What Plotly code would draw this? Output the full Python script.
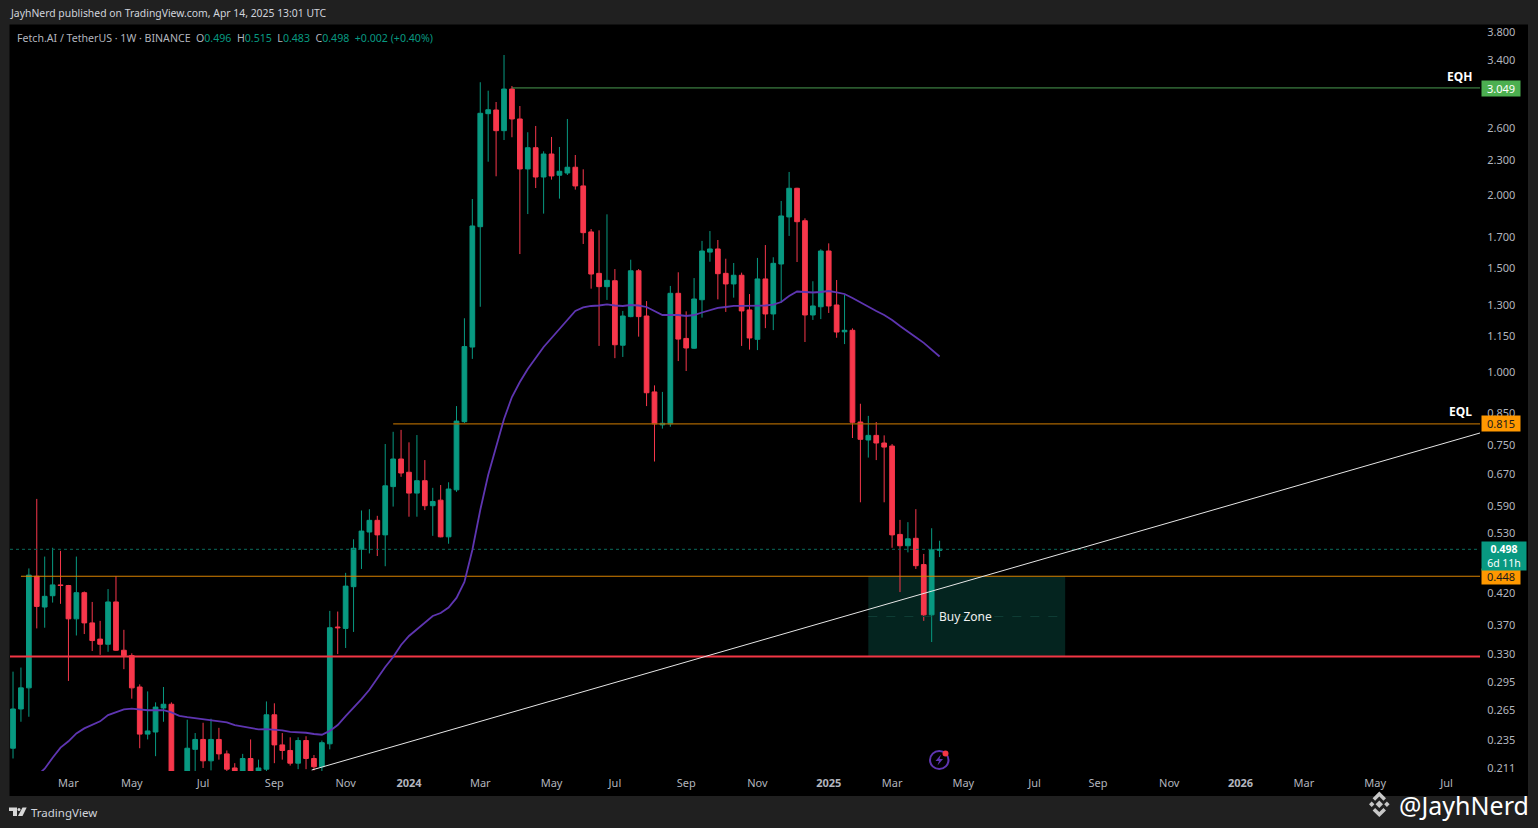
import math
import pandas as pd
import plotly.graph_objects as go

W, H = 1538, 828
FONT = "Noto Sans"

week_start = "2023-01-16"
opens = [.228,.266,.289,.448,.397,.415,.433,.432,.379,.420,
         .373,.350,.343,.405,.335,.328,.290,.241,.243,.267,
         .271,.194,.190,.227,.236,.217,.236,.223,.211,.205,
         .219,.205,.210,.260,.231,.226,.215,.235,.219,.212,
         .232,.367,.365,.430,.498,.533,.558,.527,.637,.710,
         .674,.621,.652,.591,.604,.523,.629,.822,1.102,1.768,
         2.756,2.796,2.578,3.036,2.699,2.218,2.411,2.149,2.352,2.164,
         2.183,2.233,2.075,1.732,1.472,1.397,1.430,1.110,1.242,1.487,
         1.245,.924,.812,.815,1.361,1.140,1.097,1.327,1.600,1.620,
         1.472,1.412,1.461,1.275,1.136,1.440,1.255,1.527,1.837,2.056,
         1.810,1.250,1.291,1.607,1.300,1.170,1.177,.821,.765,.779,
         .756,.747,.528,.505,.520,.469,.385,.496]
highs = [.308,.313,.462,.607,.484,.501,.495,.433,.484,.422,
         .405,.376,.426,.448,.363,.331,.293,.285,.273,.290,
         .273,.205,.255,.242,.252,.256,.247,.226,.215,.223,
         .236,.218,.274,.272,.242,.238,.238,.239,.222,.235,
         .391,.390,.454,.518,.580,.583,.568,.753,.790,.796,
         .758,.780,.707,.634,.641,.648,.874,1.234,1.971,3.118,
         3.016,2.885,3.470,3.072,2.840,2.562,2.626,2.377,2.515,2.418,
         2.699,2.343,2.215,1.752,1.743,1.856,1.497,1.270,1.553,1.497,
         1.320,.948,.924,1.401,1.478,1.268,1.445,1.672,1.738,1.678,
         1.559,1.533,1.476,1.357,1.564,1.645,1.568,1.956,2.192,2.060,
         1.827,1.427,1.618,1.656,1.434,1.352,1.186,.882,.841,.821,
         .779,.753,.559,.554,.583,.489,.541,.515]
lows = [.219,.253,.258,.365,.366,.404,.402,.297,.355,.357,
        .334,.329,.333,.334,.311,.277,.228,.236,.221,.253,
        .186,.180,.183,.203,.211,.209,.218,.208,.202,.201,
        .201,.201,.208,.215,.218,.213,.210,.210,.209,.207,
        .227,.330,.338,.360,.461,.490,.485,.466,.589,.662,
        .566,.566,.581,.525,.522,.509,.624,.818,1.052,1.291,
        2.282,2.155,2.485,2.512,1.588,1.858,2.058,1.861,2.127,1.974,
        2.166,2.045,1.652,1.386,1.107,1.326,1.055,1.060,1.239,1.148,
        .874,.703,.800,.806,1.043,1.003,1.094,1.237,1.541,1.329,
        1.265,1.338,1.107,1.091,1.089,1.187,1.178,1.312,1.705,1.539,
        1.124,1.226,1.230,1.260,1.143,1.115,.771,.599,.714,.707,
        .599,.501,.421,.492,.461,.376,.346,.483]
closes = [.266,.289,.450,.398,.414,.433,.432,.379,.420,.373,
          .348,.343,.405,.335,.328,.289,.241,.244,.268,.271,
          .194,.188,.228,.236,.217,.236,.223,.210,.205,.219,
          .205,.211,.260,.231,.226,.215,.235,.219,.212,.233,
          .366,.366,.431,.500,.535,.558,.527,.639,.710,.672,
          .621,.652,.591,.601,.523,.631,.824,1.104,1.773,2.760,
          2.799,2.578,3.036,2.699,2.218,2.411,2.149,2.352,2.158,2.198,
          2.233,2.075,1.727,1.468,1.397,1.432,1.112,1.245,1.487,1.242,
          .921,.815,.817,1.361,1.137,1.098,1.331,1.607,1.620,1.470,
          1.412,1.461,1.270,1.142,1.440,1.255,1.531,1.844,2.056,1.803,
          1.250,1.295,1.607,1.295,1.169,1.177,.820,.767,.779,.756,
          .744,.527,.505,.519,.467,.385,.497,.498]
ma_line = [None,None,None,.2045,.2104,.2196,.2285,.2343,.2417,.2465,
           .2500,.2534,.2597,.2625,.2655,.2663,.2655,.2647,.2647,.2647,
           .2625,.2590,.2577,.2567,.2557,.2547,.2540,.2524,.2497,.2484,
           .2471,.2455,.2458,.2452,.2446,.2432,.2430,.2423,.2411,.2404,
           .2441,.2497,.2587,.2670,.2766,.2868,.3004,.3137,.3263,.3420,
           .3543,.3635,.3743,.3832,.3878,.3963,.4114,.4380,.4967,.5811,
           .6667,.7472,.8307,.9057,.9607,1.011,1.0557,1.1023,1.142,1.183,
           1.2256,1.2697,1.2873,1.2949,1.2974,1.3034,1.2974,1.2949,1.2999,1.2974,
           1.2898,1.2697,1.2499,1.2499,1.2499,1.2451,1.2499,1.2622,1.2745,1.2848,
           1.2898,1.295,1.295,1.295,1.295,1.2974,1.3024,1.3153,1.3466,1.3707,
           1.368,1.3654,1.368,1.3734,1.3654,1.3574,1.3362,1.3127,1.2898,1.2697,
           1.2499,1.2256,1.1967,1.1692,1.1453,1.1202,1.0893,1.0619]

price_ticks = [3.8,3.4,2.6,2.3,2.0,1.7,1.5,1.3,1.15,1.0,.85,.75,.67,.59,.53,.42,.37,.33,.295,.265,.235,.211]
date_ticks = ["2023-03-06","2023-05-01","2023-07-03","2023-09-04","2023-11-06","2024-01-01",
              "2024-03-04","2024-05-06","2024-07-01","2024-09-02","2024-11-04","2025-01-06",
              "2025-03-03","2025-05-05","2025-07-07","2025-09-01","2025-11-03","2026-01-05",
              "2026-03-02","2026-05-04","2026-07-06"]
date_labels = ["Mar","May","Jul","Sep","Nov","<b>2024</b>","Mar","May","Jul","Sep","Nov","<b>2025</b>",
               "Mar","May","Jul","Sep","Nov","<b>2026</b>","Mar","May","Jul"]

x_range = ["2023-01-13 08:00", "2026-08-04 16:00"]
y_range = [-0.6809, 0.5915]
eqh, eql, zone_top, zone_bottom, zone_mid, last_price = 3.049, 0.815, 0.448, 0.327, 0.3825, 0.498
eqh_start, eql_start, top_start = "2024-04-01", "2023-12-18", "2023-01-23"
zone_x = ["2025-02-10", "2025-08-03"]
trend_x = ["2023-10-07", "2026-08-04 16:00"]
trend_y = [0.2093, 0.7864]

UP, DOWN = "#089981", "#F7374B"
dates = pd.date_range(week_start, periods=len(opens), freq="7D")


def px(x):
    return x / W


def py(y):
    return 1 - y / H


def path(points):
    return "M" + " L".join(f"{px(a):.5f},{py(b):.5f}" for a, b in points) + " Z"


fig = go.Figure()
fig.add_trace(go.Candlestick(
    x=dates, open=opens, high=highs, low=lows, close=closes,
    increasing=dict(line=dict(color=UP, width=1), fillcolor=UP),
    decreasing=dict(line=dict(color=DOWN, width=1), fillcolor=DOWN),
    whiskerwidth=0, showlegend=False,
))
end = x_range[1]
levels = [
    ([eqh_start, end], [eqh, eqh], "#4A9A50", 1, "solid"),
    ([eql_start, end], [eql, eql], "#A86400", 1.2, "solid"),
    ([top_start, end], [zone_top, zone_top], "#D98200", 1.2, "solid"),
    ([x_range[0], end], [zone_bottom, zone_bottom], "#F23645", 2, "solid"),
    ([x_range[0], end], [last_price, last_price], "#0A6B5C", 1, "dot"),
    (zone_x, [zone_mid, zone_mid], "#0F3D35", 1, "dash"),
    (trend_x, trend_y, "#E6E6E6", 1, "solid"),
]
for xs, ys, color, width, dash in levels:
    fig.add_trace(go.Scatter(x=xs, y=ys, mode="lines", showlegend=False,
                             line=dict(color=color, width=width, dash=dash)))
fig.add_trace(go.Scatter(x=dates, y=ma_line, mode="lines", showlegend=False,
                         line=dict(color="#5E35B1", width=1.8)))

shapes = [
    dict(type="rect", xref="paper", yref="paper", x0=px(9.5), x1=px(1528), y0=py(796), y1=py(24.5),
         fillcolor="#000000", line_width=0, layer="below"),
    dict(type="rect", xref="x", yref="y", x0=zone_x[0], x1=zone_x[1], y0=zone_bottom, y1=zone_top,
         fillcolor="#04241F", line_width=0, layer="below"),
    # alert icon
    dict(type="circle", xref="paper", yref="paper", x0=px(930), x1=px(948.5), y0=py(769), y1=py(751),
         line=dict(color="#5E35B1", width=2), fillcolor="rgba(0,0,0,0)"),
    dict(type="circle", xref="paper", yref="paper", x0=px(942.5), x1=px(948.5), y0=py(756.5), y1=py(750.5),
         line_width=0, fillcolor="#F23645"),
    dict(type="path", xref="paper", yref="paper", line_width=0, fillcolor="#5E35B1",
         path=path([(941, 754.5), (935.5, 761), (939, 761), (937.5, 765.5), (943, 759), (939.5, 759)])),
    # TradingView logo
    dict(type="path", xref="paper", yref="paper", line_width=0, fillcolor="#D8D8D8",
         path=path([(9, 807.5), (17, 807.5), (17, 816), (13, 816), (13, 811), (9, 811)])),
    dict(type="circle", xref="paper", yref="paper", x0=px(17.5), x1=px(20.5), y0=py(811), y1=py(808),
         line_width=0, fillcolor="#D8D8D8"),
    dict(type="path", xref="paper", yref="paper", line_width=0, fillcolor="#D8D8D8",
         path=path([(22.5, 807.5), (26.7, 807.5), (22.5, 816), (18, 816)])),
]
# watermark logo
for pts in [
    [(1379.3, 800.5), (1383, 804.3), (1379.3, 808), (1375.6, 804.3)],
    [(1369, 804.3), (1371.7, 801.6), (1374.4, 804.3), (1371.7, 807)],
    [(1384.2, 804.3), (1386.9, 801.6), (1389.6, 804.3), (1386.9, 807)],
    [(1379.3, 791.5), (1386, 798.2), (1383.5, 800.7), (1379.3, 796.5), (1375.1, 800.7), (1372.6, 798.2)],
    [(1379.3, 817), (1372.6, 810.4), (1375.1, 807.9), (1379.3, 812), (1383.5, 807.9), (1386, 810.4)],
]:
    shapes.append(dict(type="path", xref="paper", yref="paper", line_width=0, fillcolor="#C8C8C8", path=path(pts)))


def price_tag(value, text, bg, color, width, height=15, yshift=0, size=11):
    return dict(xref="paper", x=px(1481), xanchor="left", yref="y", y=math.log10(value), yanchor="middle",
                text=text, showarrow=False, bgcolor=bg, width=width, height=height, yshift=yshift,
                align="center", font=dict(family=FONT, size=size, color=color), borderpad=0)


def paper_text(x, y, text, size=11, color="#D1D4DC", anchor="left"):
    return dict(xref="paper", yref="paper", x=px(x), y=py(y), xanchor=anchor, yanchor="middle",
                text=text, showarrow=False, font=dict(family=FONT, size=size, color=color))


G = '<span style="color:#089981">'
legend_text = (f'Fetch.AI / TetherUS · 1W · BINANCE  O{G}0.496</span>  H{G}0.515</span>  '
               f'L{G}0.483</span>  C{G}0.498</span>  {G}+0.002 (+0.40%)</span>')
annotations = [
    paper_text(8, 13, "JayhNerd published on TradingView.com, Apr 14, 2025 13:01 UTC", 10.4, "#D1D4DC"),
    paper_text(15, 38, legend_text, 10.6, "#B2B5BE"),
    paper_text(29, 812, "TradingView", 11.5, "#D1D4DC"),
    paper_text(1531, 805, "@JayhNerd", 25, "#FFFFFF", "right"),
    price_tag(eqh, "3.049", "#4CAF50", "#FFFFFF", 38, yshift=-1),
    price_tag(eql, "0.815", "#FF9800", "#1A1A1A", 38),
    price_tag(zone_top, "0.448", "#FF9800", "#1A1A1A", 38),
    price_tag(last_price, "<b>0.498</b><br>6d 11h", "#089981", "#FFFFFF", 44, height=28, yshift=-7, size=10.5),
    dict(xref="paper", x=px(1474), xanchor="right", yref="y", y=math.log10(eqh), yanchor="middle", yshift=11,
         text="<b>EQH</b>", showarrow=False, font=dict(family=FONT, size=12, color="#FFFFFF")),
    dict(xref="paper", x=px(1474), xanchor="right", yref="y", y=math.log10(eql), yanchor="middle", yshift=12,
         text="<b>EQL</b>", showarrow=False, font=dict(family=FONT, size=12, color="#FFFFFF")),
    dict(xref="x", x="2025-04-14", xanchor="left", xshift=-3, yref="y", y=math.log10(zone_mid), yanchor="middle",
         text="Buy Zone", showarrow=False, font=dict(family=FONT, size=12, color="#F0F0F0")),
]

fig.update_layout(
    width=W, height=H, margin=dict(l=0, r=0, t=0, b=0),
    paper_bgcolor="#202020", plot_bgcolor="#000000",
    boxgap=0.15, showlegend=False, dragmode=False,
    shapes=shapes, annotations=annotations,
    font=dict(family=FONT, size=11, color="#B2B5BE"),
)
fig.update_xaxes(
    type="date", domain=[px(10), px(1480)], range=x_range, rangeslider_visible=False,
    tickmode="array", tickvals=date_ticks, ticktext=date_labels, tickangle=0, automargin=False,
    ticks="outside", ticklen=2, tickcolor="rgba(0,0,0,0)",
    showgrid=False, zeroline=False, showline=False,
    tickfont=dict(family=FONT, size=11, color="#B2B5BE"),
)
fig.update_yaxes(
    type="log", domain=[py(771), py(25)], range=y_range, side="right", automargin=False,
    tickmode="array", tickvals=price_ticks, ticktext=[f"{v:.3f}" for v in price_ticks],
    ticks="outside", ticklen=4, tickcolor="rgba(0,0,0,0)",
    showgrid=False, zeroline=False, showline=False,
    tickfont=dict(family=FONT, size=11, color="#B2B5BE"),
)

page_fix = ("document.documentElement.style.cssText='margin:0;height:828px;overflow:hidden';"
            "document.body.style.cssText='margin:0;height:828px;overflow:hidden';")
fig.write_html("out.html", config=dict(displayModeBar=False), post_script=page_fix)
